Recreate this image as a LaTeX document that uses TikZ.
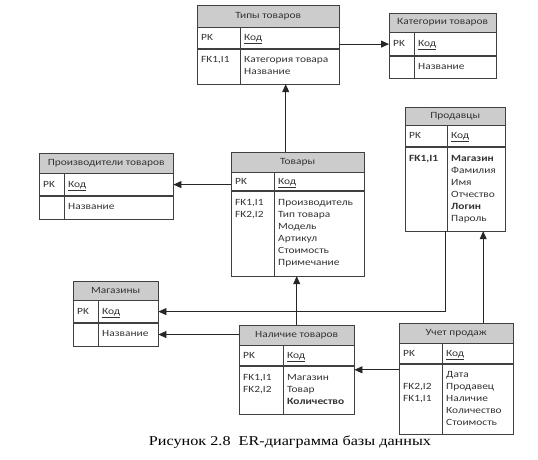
\documentclass[tikz,border=0pt]{standalone}
\usepackage{fontspec}
\setmainfont{Carlito}[FakeStretch=1.2]
\newfontfamily\capfont{Liberation Serif}[FakeStretch=1.2]
\usetikzlibrary{arrows.meta,positioning}
\newcommand{\cells}[3]{\begin{tabular}{@{\hspace{4pt}}p{\dimexpr#1-4pt\relax}@{\hspace{4pt}}p{\dimexpr#2-4pt\relax}@{}}#3\end{tabular}}

\begin{document}
\begin{tikzpicture}[x=1pt,y=-1pt,
  every node/.style={font=\fontsize{9.5}{12}\selectfont,text=black!80},
  ttl/.style={draw=black!75,fill=black!20,anchor=north west,inner sep=0pt},
  fld/.style={draw=black!75,fill=white,inner sep=0pt,below=0pt of #1},
  sep/.style={draw=black!75},
  arr/.style={draw=black!85,line width=0.8pt,-{Triangle[length=8pt,width=7pt]}}]
\useasboundingbox (0,0) rectangle (538,460);
% Типы товаров
\node[ttl,minimum width=142pt,minimum height=22pt] (tipyT) at (197,5) {Типы товаров};
\node[fld=tipyT,minimum height=21pt] (tipyK) {\cells{43pt}{99pt}{PK & \underline{Код}}};
\node[fld=tipyK,minimum height=35pt] (tipyB) {\cells{43pt}{99pt}{FK1,I1 & Категория товара\\ & Название}};
\draw[sep] ([xshift=43pt]tipyK.north west) -- ([xshift=43pt]tipyB.south west);
% Категории товаров
\node[ttl,minimum width=107pt,minimum height=19pt] (katT) at (389,13) {Категории товаров};
\node[fld=katT,minimum height=23pt] (katK) {\cells{25pt}{82pt}{PK & \underline{Код}}};
\node[fld=katK,minimum height=22pt] (katB) {\cells{25pt}{82pt}{ & Название}};
\draw[sep] ([xshift=25pt]katK.north west) -- ([xshift=25pt]katB.south west);
% Производители товаров
\node[ttl,minimum width=134pt,minimum height=20pt] (proizT) at (39,153) {Производители товаров};
\node[fld=proizT,minimum height=22pt] (proizK) {\cells{25pt}{109pt}{PK & \underline{Код}}};
\node[fld=proizK,minimum height=23pt] (proizB) {\cells{25pt}{109pt}{ & Название}};
\draw[sep] ([xshift=25pt]proizK.north west) -- ([xshift=25pt]proizB.south west);
% Товары
\node[ttl,minimum width=133pt,minimum height=20pt] (tovT) at (231,152) {Товары};
\node[fld=tovT,minimum height=18pt] (tovK) {\cells{43pt}{90pt}{PK & \underline{Код}}};
\node[fld=tovK,minimum height=85pt] (tovB) {\cells{43pt}{90pt}{FK1,I1 & Производитель\\ FK2,I2 & Тип товара\\ & Модель\\ & Артикул\\ & Стоимость\\ & Примечание}};
\draw[sep] ([xshift=43pt]tovK.north west) -- ([xshift=43pt]tovB.south west);
% Продавцы
\node[ttl,minimum width=100pt,minimum height=18pt] (prodT) at (405,107) {Продавцы};
\node[fld=prodT,minimum height=21pt] (prodK) {\cells{42pt}{58pt}{PK & \underline{Код}}};
\node[fld=prodK,minimum height=84pt] (prodB) {\cells{42pt}{58pt}{\textbf{FK1,I1} & \textbf{Магазин}\\ & Фамилия\\ & Имя\\ & Отчество\\ & \textbf{Логин}\\ & Пароль}};
\draw[sep] ([xshift=42pt]prodK.north west) -- ([xshift=42pt]prodB.south west);
% Магазины
\node[ttl,minimum width=85pt,minimum height=19pt] (magT) at (73,281) {Магазины};
\node[fld=magT,minimum height=22pt] (magK) {\cells{25pt}{60pt}{PK & \underline{Код}}};
\node[fld=magK,minimum height=23pt] (magB) {\cells{25pt}{60pt}{ & Название}};
\draw[sep] ([xshift=25pt]magK.north west) -- ([xshift=25pt]magB.south west);
% Наличие товаров
\node[ttl,minimum width=115pt,minimum height=20pt] (nalT) at (239,325) {Наличие товаров};
\node[fld=nalT,minimum height=20pt] (nalK) {\cells{44pt}{71pt}{PK & \underline{Код}}};
\node[fld=nalK,minimum height=48pt] (nalB) {\cells{44pt}{71pt}{FK1,I1 & Магазин\\ FK2,I2 & Товар\\ & \textbf{Количество}}};
\draw[sep] ([xshift=44pt]nalK.north west) -- ([xshift=44pt]nalB.south west);
% Учет продаж
\node[ttl,minimum width=114pt,minimum height=20pt] (uchT) at (399,323) {Учет продаж};
\node[fld=uchT,minimum height=20pt] (uchK) {\cells{43pt}{71pt}{PK & \underline{Код}}};
\node[fld=uchK,minimum height=70pt] (uchB) {\cells{43pt}{71pt}{ & Дата\\ FK2,I2 & Продавец\\ FK1,I1 & Наличие\\ & Количество\\ & Стоимость}};
\draw[sep] ([xshift=43pt]uchK.north west) -- ([xshift=43pt]uchB.south west);
% связи
\draw[arr] (katK.west -| tipyK.east) -- (katK.west);
\draw[arr] ([xshift=-12pt]tovT.north) -- ([xshift=-12pt]tovT.north |- tipyB.south);
\draw[arr] (proizK.east -| tovK.west) -- (proizK.east);
\draw[arr] (nalT.north) -- (nalT.north |- tovB.south);
\draw[arr] (magB.east -| nalT.west) -- (magB.east);
\draw[arr] ([xshift=-10pt]prodB.south) |- (magK.east);
\draw[arr] ([xshift=27pt]uchT.north) -- ([xshift=27pt]uchT.north |- prodB.south);
\coordinate (nalIn) at ([yshift=-4pt]nalB.north east);
\draw[arr] (uchB.west |- nalIn) -- (nalIn);
% подпись
\node[font=\capfont\fontsize{13.5}{16}\selectfont,text=black,anchor=base] (cap) at (290,445) {Рисунок 2.8\ \ ER-диаграмма базы данных};
\end{tikzpicture}
\end{document}
